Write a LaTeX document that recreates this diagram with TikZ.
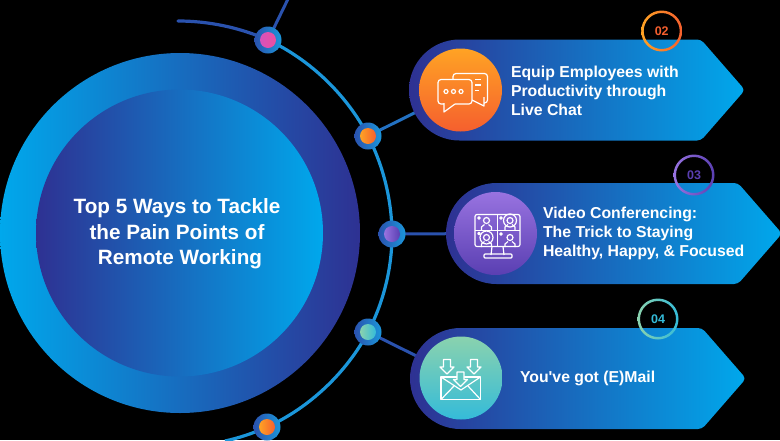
\documentclass[tikz,border=0pt]{standalone}
\usepackage{fontspec}
\setmainfont{Liberation Sans}
\definecolor{deepblue}{HTML}{2E3192}
\definecolor{skyblue}{HTML}{00A8EC}
\definecolor{linkblue}{HTML}{1B96DA}
\definecolor{inkblue}{HTML}{2A52AE}
\definecolor{pinkA}{HTML}{D653BC}
\definecolor{pinkB}{HTML}{EE4E9E}
\definecolor{orangeA}{HTML}{FFA324}
\definecolor{orangeB}{HTML}{F55F2E}
\definecolor{purpleA}{HTML}{9873E0}
\definecolor{purpleB}{HTML}{5A3FB2}
\definecolor{tealA}{HTML}{8AD2AE}
\definecolor{tealB}{HTML}{34BBD9}
\tikzset{
  dotring/.style={circle,inner sep=0pt,minimum size=27pt,left color=inkblue,right color=linkblue},
  dotcore/.style={circle,inner sep=0pt,minimum size=16pt},
  arcline/.style={line width=3.2pt,linkblue},
  spoke/.style={line width=3pt,inkblue},
  iconball/.style={circle,inner sep=0pt,minimum size=83pt},
  iconline/.style={white,line width=1.2pt,line join=round},
  paneltext/.style={anchor=west,align=left,text=white,font=\fontsize{15.8}{19}\selectfont\bfseries},
  numtext/.style={font=\fontsize{12.5}{14}\selectfont\bfseries}
}
\begin{document}
\begin{tikzpicture}[x=1pt,y=-1pt]
        \useasboundingbox (0,0) rectangle (780,440);
        \clip (0,0) rectangle (780,440);
        \fill[black] (0,0) rectangle (780,440);
        % draw the two big discs
        \shade[left color=skyblue,right color=deepblue] (180,233) circle[radius=180];
        \shade[left color=deepblue,right color=skyblue] (179.5,233) circle[radius=143.5];
        \node[align=center,text=white,font=\fontsize{20.7}{25.4}\selectfont\bfseries] (title) at (177,234) {Top 5 Ways to Tackle\\the Pain Points of\\\hspace*{6pt}Remote Working};
        % free ends and icon centres
        \coordinate (arcstart) at (178,21);
        \coordinate (arcend) at (225,441);
        \coordinate (topend) at (288,-1);
        \coordinate (iconA) at (460.5,90);
        \coordinate (iconB) at (495.5,233.5);
        \coordinate (iconC) at (461,378);
        % place the dots on the arc
        \foreach \name/\x/\y in {dotA/268/40,dotB/368/136,dotC/392/234,dotD/368/332,dotE/267/427}
        \coordinate (\name) at (\x,\y);
        % draw the arc and the spokes
        \draw[arcline,inkblue,line cap=round] (arcstart) to[bend left=12,looseness=.85] (dotA);
        \draw[arcline] (dotA) to[bend left=19,looseness=.85] (dotB);
        \draw[arcline] (dotB) to[bend left=13.5,looseness=.85] (dotC);
        \draw[arcline] (dotC) to[bend left=14,looseness=.85] (dotD);
        \draw[arcline] (dotD) to[bend left=19,looseness=.85] (dotE);
        \draw[arcline] (dotE) to[bend left=6,looseness=.85] (arcend);
        \draw[spoke] (dotA) -- (topend);
        \draw[spoke,inkblue!55!linkblue] (dotB) -- (iconA);
        \draw[spoke] (dotC) -- (iconB);
        \draw[spoke] (dotD) -- (iconC);
        \foreach \name/\cola/\colb in {dotA/pinkA/pinkB,dotB/orangeA/orangeB,dotC/purpleA/purpleB,dotD/tealA/tealB,dotE/orangeA/orangeB}
        \node[dotring] (\name ring) at (\name) {} node[dotcore,left color=\cola,right color=\colb] (\name core) at (\name) {};
        % draw the three panels
        \foreach \x/\y in {409/90,446/233.5,410/378.5}
        \shade[left color=deepblue,right color=skyblue] (\x+50.5,\y-50.5) [rounded corners=4pt] -- (\x+292,\y-50.5) -- (\x+336,\y) -- (\x+292,\y+50.5) [sharp corners] -- (\x+50.5,\y+50.5) arc[start angle=90,end angle=270,radius=50.5] -- cycle;
        % draw the icon discs
        \node[iconball,top color=orangeA,bottom color=orangeB] (ballA) at (iconA) {};
        \node[iconball,top color=purpleA,bottom color=purpleB] (ballB) at (iconB) {};
        \node[iconball,top color=tealA,bottom color=tealB] (ballC) at (iconC) {};
        % draw the panel texts
        \node[paneltext] (textA) at (507.5,91) {Equip Employees with\\Productivity through\\Live Chat};
        \node[paneltext] (textB) at (539.5,233.5) {Video Conferencing:\\The Trick to Staying\\Healthy, Happy, \& Focused};
        \node[paneltext] (textC) at (516.5,378) {You\textquotesingle ve got (E)Mail};
        % draw the number rings
        \foreach \x/\y/\cola/\colb/\num in {661.7/31/orangeA/orangeB/02,694/175/purpleA/purpleB/03,658/319/tealA/tealB/04}{
        \shade[even odd rule,left color=\cola,right color=\colb] (\x,\y) circle[radius=20.5] (\x,\y) circle[radius=18];
        \node[numtext,text=\colb] (num\num) at (\x,\y) {\num};
        }
        % chat icon
        \draw[iconline,rounded corners=3pt] (438,79.5) rectangle (472,104);
        \fill[orangeA!40!orangeB] (444,102) rectangle (455,106);
        \draw[iconline] (444,103) -- (444,112) -- (455,104);
        \foreach \x in {446,453.5,461}
        \draw[iconline] (\x,91.5) circle[radius=2];
        \draw[iconline,rounded corners=3pt] (453,79) -- (453,73.5) -- (487.5,73.5) -- (487.5,103) -- (484,103);
        \draw[iconline] (484,97) -- (484,106) -- (472,100);
        \draw[iconline] (475,79.5) -- (481,79.5) (475,85) -- (481,85) (475,90.5) -- (479,90.5);
        % video icon
        \draw[iconline,rounded corners=2pt] (475,214.5) rectangle (520,246.5);
        \draw[iconline] (497.5,214.5) -- (497.5,246.5) (475,230.5) -- (520,230.5);
        \draw[iconline] (492,246.5) -- (491,255) (503,246.5) -- (504,255);
        \draw[iconline,rounded corners=1pt] (484,254) rectangle (512,258);
        \foreach \x/\y in {486.5/222,510/222,486.5/239,510/239}{
        \draw[iconline] (\x,\y-1.5) circle[radius=3];
        \draw[iconline] (\x-5,\y+8) -- (\x-5,\y+5) -- (\x-2,\y+2.5) (\x+2,\y+2.5) -- (\x+5,\y+5) -- (\x+5,\y+8);
        }
        \draw[iconline] (510,220.5) circle[radius=6.5];
        \draw[iconline] (486.5,237.5) circle[radius=6.5];
        \draw[iconline] (479,218) circle[radius=1.3] (479,233.5) circle[radius=1.3] (501,234) circle[radius=1.3] (501,218) circle[radius=1.3];
        % mail icon
        \draw[iconline] (441,377) -- (480.5,377) -- (480.5,399.5) -- (441,399.5) -- cycle;
        \draw[iconline] (441,377) -- (461,390) -- (480.5,377);
        \draw[iconline] (441,399.5) -- (454,386) (480.5,399.5) -- (468,386);
        \foreach \x/\y in {447/359.5,474/359.5,460.5/372}
        \draw[iconline,fill=tealA!55!tealB] (\x-3.5,\y) -- (\x+3.5,\y) -- (\x+3.5,\y+7.5) -- (\x+7,\y+7.5) -- (\x,\y+14.5) -- (\x-7,\y+7.5) -- (\x-3.5,\y+7.5) -- cycle;
\end{tikzpicture}
\end{document}
